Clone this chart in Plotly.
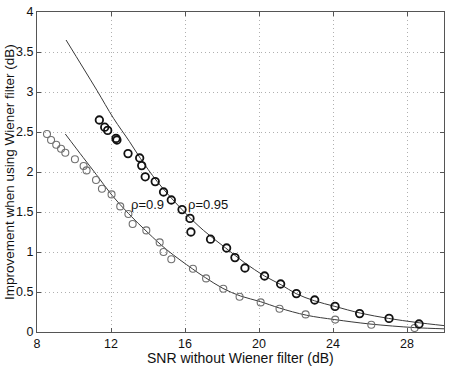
import plotly.graph_objects as go

# rho = 0.95 measured points
x95 = [11.37, 11.66, 11.82, 12.27, 12.32, 12.92, 13.55, 13.66, 13.85, 14.39, 14.84, 15.26, 15.84, 16.27, 16.32,
       17.38, 18.25, 18.70, 19.24, 20.30, 21.17, 22.02, 23.01, 24.11, 25.44, 27.03, 28.65]
y95 = [2.65, 2.56, 2.52, 2.42, 2.40, 2.23, 2.175, 2.08, 1.94, 1.88, 1.75, 1.65, 1.53, 1.42, 1.25,
       1.16, 1.05, 0.93, 0.80, 0.70, 0.60, 0.48, 0.40, 0.32, 0.23, 0.17, 0.10]

# rho = 0.9 measured points
x90 = [8.54, 8.76, 9.04, 9.30, 9.53, 10.05, 10.52, 10.68, 11.19, 11.51, 12.03, 12.50, 12.94, 13.17, 13.91, 14.63,
       14.84, 15.26, 16.43, 17.14, 18.07, 18.95, 20.09, 21.11, 22.52, 24.12, 26.07, 28.41]
y90 = [2.475, 2.40, 2.34, 2.29, 2.24, 2.16, 2.075, 2.02, 1.90, 1.79, 1.72, 1.57, 1.475, 1.35, 1.27, 1.12,
       1.00, 0.91, 0.79, 0.67, 0.54, 0.44, 0.37, 0.29, 0.22, 0.155, 0.09, 0.05]

# theoretical curves
xc95 = [9.57, 10.5, 11.24, 12.14, 13.0, 13.59, 14.5, 15.84, 17.0, 18.2, 19.2, 20.3, 21.2, 22.0, 23.0, 24.1, 25.5, 27.0, 28.5, 30.0]
yc95 = [3.65, 3.30, 3.02, 2.67, 2.38, 2.17, 1.88, 1.53, 1.27, 1.05, 0.87, 0.70, 0.59, 0.48, 0.39, 0.32, 0.235, 0.17, 0.12, 0.08]
xc90 = [9.53, 10.5, 11.2, 12.05, 12.95, 14.0, 15.03, 16.4, 17.1, 18.05, 19.0, 20.07, 21.1, 22.56, 24.1, 26.0, 28.4, 30.0]
yc90 = [2.475, 2.18, 1.97, 1.71, 1.48, 1.24, 1.025, 0.79, 0.68, 0.545, 0.45, 0.38, 0.30, 0.21, 0.155, 0.10, 0.055, 0.04]

xticks = [8, 12, 16, 20, 24, 28]
yticks = [0, 0.5, 1, 1.5, 2, 2.5, 3, 3.5, 4]
ytick_text = ["0", "0.5", "1", "1.5", "2", "2.5", "3", "3.5", "4"]

labels = ["ρ=0.9", "ρ=0.95"]
label_x = [12.95, 16.03]
label_y = [1.6, 1.6]

FONT = "Liberation Sans, Arial"

fig = go.Figure()
fig.add_trace(go.Scatter(x=xc95, y=yc95, mode="lines", line=dict(color="#3a3a3a", width=1, shape="spline"), showlegend=False))
fig.add_trace(go.Scatter(x=xc90, y=yc90, mode="lines", line=dict(color="#3a3a3a", width=1, shape="spline"), showlegend=False))
fig.add_trace(go.Scatter(x=x90, y=y90, mode="markers",
                         marker=dict(symbol="circle-open", size=7, color="#707070", line=dict(width=1.1, color="#707070")),
                         showlegend=False))
fig.add_trace(go.Scatter(x=x95, y=y95, mode="markers",
                         marker=dict(symbol="circle-open", size=7.5, color="#111111", line=dict(width=1.8, color="#111111")),
                         showlegend=False))

for t, lx, ly in zip(labels, label_x, label_y):
    fig.add_annotation(x=lx, y=ly, text=t, showarrow=False, xanchor="left", yanchor="middle",
                       font=dict(family=FONT, size=13, color="#111"))

# axis titles
fig.add_annotation(xref="paper", yref="paper", x=0.5, y=0, yshift=-26, yanchor="middle",
                   text="SNR without Wiener filter (dB)", showarrow=False,
                   font=dict(family=FONT, size=14, color="#111"))
fig.add_annotation(xref="paper", yref="paper", x=0, xshift=-28, y=0.5, xanchor="center",
                   text="Improvement when using Wiener filter (dB)", showarrow=False, textangle=-90,
                   font=dict(family=FONT, size=13.5, color="#111"))

axis_common = dict(showline=True, linecolor="#555", linewidth=1, mirror="ticks", ticks="inside", ticklen=4,
                   tickcolor="#555", showgrid=True, gridcolor="#b0b0b0", griddash="1px,3px", gridwidth=1,
                   zeroline=False, automargin=False,
                   tickfont=dict(family=FONT, size=12.5, color="#111"))

fig.update_xaxes(range=[8, 30], tickvals=xticks, ticktext=[str(v) for v in xticks], **axis_common)
fig.update_yaxes(range=[0, 4], tickvals=yticks, ticktext=ytick_text, **axis_common)

fig.update_layout(width=474, height=367, margin=dict(l=37, r=30, t=12, b=35, autoexpand=False),
                  plot_bgcolor="white", paper_bgcolor="white")

# remove the page's default body margin so the figure sits at the window's corner
fig.write_html("out.html", config={"displayModeBar": False},
               post_script="document.body.style.margin='0px';document.body.style.overflow='hidden';")
